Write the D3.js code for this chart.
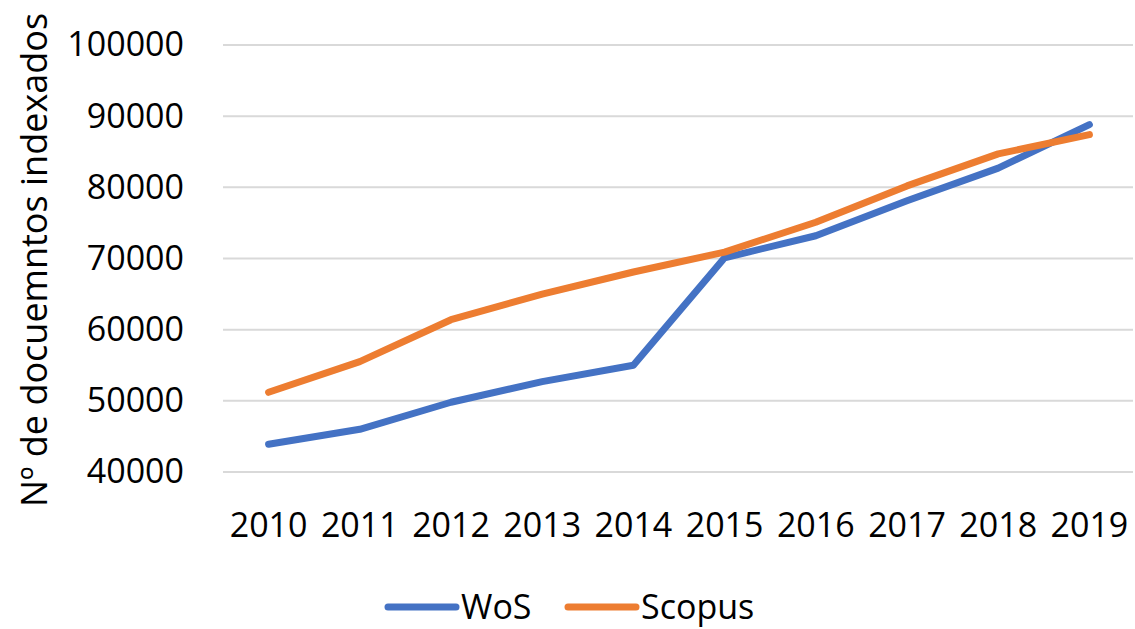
<!DOCTYPE html>
<html><head><meta charset="utf-8">
<script src="https://cdn.jsdelivr.net/npm/d3@7"></script>
<style>body{margin:0;background:#fff}svg{display:block}text{font-family:"Open Sans",sans-serif;fill:#000}</style>
</head><body><svg id="c" width="1135" height="629"></svg>
<script>
const years = ["2010","2011","2012","2013","2014","2015","2016","2017","2018","2019"];
const wos = [43900, 46000, 49800, 52700, 55000, 70100, 73200, 78100, 82700, 88800];
const scopus = [51200, 55500, 61400, 65000, 68100, 70900, 75100, 80200, 84700, 87400];
const yTicks = [40000, 50000, 60000, 70000, 80000, 90000, 100000];
const seriesNames = ["WoS", "Scopus"];
const colors = ["#4472C4", "#ED7D31"];

(function () {
const svg = d3.select("#c");
const pLeft = 223, pRight = 1135, pTop = 45, pBottom = 472;
const x = d3.scaleBand().domain(years).range([pLeft, pRight]);
const y = d3.scaleLinear().domain([40000, 100000]).range([pBottom, pTop]);

svg.append("g").selectAll("line").data(yTicks).join("line")
  .attr("x1", pLeft).attr("x2", 1133)
  .attr("y1", d => y(d)).attr("y2", d => y(d))
  .attr("stroke", "#d9d9d9").attr("stroke-width", 2);

const yAxis = d3.axisLeft(y).tickValues(yTicks).tickSize(0).tickPadding(0).tickFormat(d3.format("d"));
const gy = svg.append("g").attr("transform", "translate(184,0)").call(yAxis);
gy.select(".domain").remove();
gy.selectAll("text").style("font-size", "34px").style("font-family", "'Open Sans',sans-serif").attr("fill", "#000");

const xAxis = d3.axisBottom(x).tickSize(0).tickPadding(0);
const gx = svg.append("g").attr("transform", "translate(0,513)").call(xAxis);
gx.select(".domain").remove();
gx.selectAll("text").style("font-size", "34px").style("font-family", "'Open Sans',sans-serif").attr("fill", "#000");

const cx = d => x(d) + x.bandwidth() / 2;
const line = d3.line().x((d, i) => cx(years[i])).y(d => y(d));
[wos, scopus].forEach((s, k) => {
  svg.append("path").datum(s).attr("d", line)
    .attr("fill", "none").attr("stroke", colors[k]).attr("stroke-width", 7)
    .attr("stroke-linecap", "round").attr("stroke-linejoin", "round");
});

svg.append("text").attr("transform", "translate(47,260) rotate(-90)")
  .attr("text-anchor", "middle").style("font-size", "36px")
  .text("Nº de docuemntos indexados");

const legX = [388, 568];
seriesNames.forEach((n, k) => {
  svg.append("line").attr("x1", legX[k]).attr("x2", legX[k] + 68)
    .attr("y1", 607).attr("y2", 607).attr("stroke", colors[k]).attr("stroke-width", 7)
    .attr("stroke-linecap", "round");
  svg.append("text").attr("x", legX[k] + 73).attr("y", 619).style("font-size", "34px").text(n);
});
})();
</script></body></html>
